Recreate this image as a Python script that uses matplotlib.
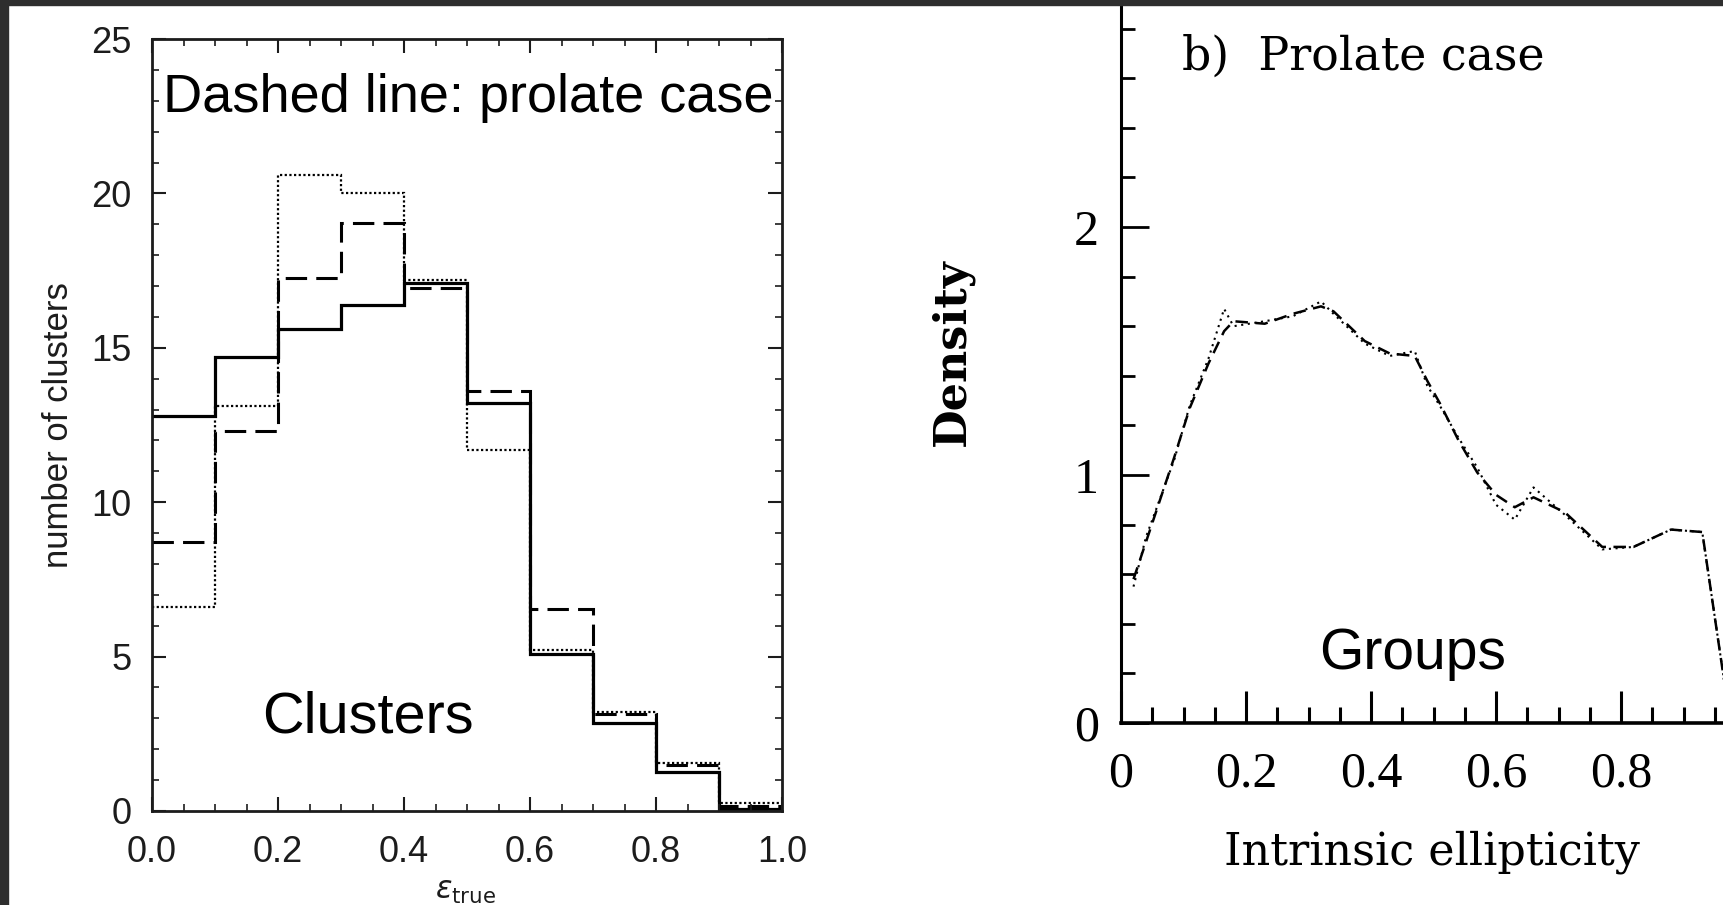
"""Two-panel ellipticity comparison: cluster histograms (left) and group density (right)."""
import matplotlib
matplotlib.use("Agg")
import matplotlib.pyplot as plt
from matplotlib.patches import Rectangle
from matplotlib.ticker import MultipleLocator, FixedLocator, FixedFormatter

# left panel: cluster counts per ellipticity bin
bin_edges = [0.0, 0.1, 0.2, 0.3, 0.4, 0.5, 0.6, 0.7, 0.8, 0.9, 1.0]
solid_counts = [12.8, 14.7, 15.6, 16.4, 17.1, 13.2, 5.1, 2.85, 1.25, 0.05]
dashed_counts = [8.7, 12.3, 17.25, 19.05, 16.95, 13.6, 6.55, 3.15, 1.5, 0.15]
dotted_counts = [6.6, 13.1, 20.6, 20.0, 17.2, 11.7, 5.2, 3.2, 1.55, 0.25]

# right panel: group density vs intrinsic ellipticity
groups_x = [0.02, 0.04, 0.085, 0.11, 0.14, 0.165, 0.18, 0.23, 0.275, 0.32, 0.34,
            0.39, 0.43, 0.47, 0.49, 0.51, 0.54, 0.57, 0.60, 0.63, 0.66, 0.71,
            0.77, 0.82, 0.88, 0.93, 0.975]
groups_dashed = [0.58, 0.73, 1.07, 1.27, 1.45, 1.58, 1.62, 1.61, 1.65, 1.68, 1.66,
                 1.54, 1.49, 1.48, 1.38, 1.29, 1.14, 1.01, 0.92, 0.87, 0.91, 0.85,
                 0.71, 0.71, 0.78, 0.77, 0.0]
groups_dotted = [0.55, 0.75, 1.06, 1.28, 1.47, 1.67, 1.60, 1.62, 1.64, 1.70, 1.65,
                 1.53, 1.48, 1.50, 1.36, 1.28, 1.15, 1.03, 0.88, 0.82, 0.95, 0.84,
                 0.70, 0.71, 0.78, 0.77, 0.0]

left_xticks = [0.0, 0.2, 0.4, 0.6, 0.8, 1.0]
left_xlabels = ["0.0", "0.2", "0.4", "0.6", "0.8", "1.0"]
right_xticks = [0.0, 0.2, 0.4, 0.6, 0.8]
right_xlabels = ["0", "0.2", "0.4", "0.6", "0.8"]

W, H = 1723, 905
fig = plt.figure(figsize=(W / 100, H / 100), dpi=100)
fig.patch.set_facecolor("white")

sans = ["Liberation Sans", "DejaVu Sans"]
serif = ["DejaVu Serif"]
serif_num = ["Liberation Serif", "DejaVu Serif"]
ink = "#1c1c1c"

# ---- left panel ----
ax1 = fig.add_axes([152 / W, 1 - 811 / H, 630 / W, 772 / H])
ax1.stairs(solid_counts, bin_edges, baseline=None, color="black", lw=2.3)
ax1.stairs(dashed_counts, bin_edges, baseline=None, color="black", lw=2.2,
           linestyle=(0, (7, 3)))
ax1.stairs(dotted_counts, bin_edges, baseline=None, color="black", lw=1.6,
           linestyle=(0, (1, 1.1)))
ax1.set_xlim(0, 1.0)
ax1.set_ylim(0, 25)
ax1.xaxis.set_major_locator(FixedLocator(left_xticks))
ax1.xaxis.set_major_formatter(FixedFormatter(left_xlabels))
ax1.xaxis.set_minor_locator(MultipleLocator(0.05))
ax1.yaxis.set_major_locator(MultipleLocator(5))
ax1.yaxis.set_minor_locator(MultipleLocator(1))
ax1.tick_params(which="both", direction="in", top=True, right=True, colors=ink)
ax1.tick_params(which="major", length=10, width=1.5)
ax1.tick_params(which="minor", length=5, width=1.2)
ax1.tick_params(axis="x", which="major", pad=17)
ax1.tick_params(axis="y", which="major", pad=15)
for lab in ax1.get_xticklabels() + ax1.get_yticklabels():
    lab.set_family(sans)
    lab.set_fontsize(26)
    lab.set_color(ink)
for sp in ax1.spines.values():
    sp.set_linewidth(2.0)
    sp.set_color(ink)
ax1.set_ylabel("number of clusters", family=sans, fontsize=25, color=ink)
ax1.yaxis.set_label_coords(-0.122, 0.5)
ax1.set_xlabel(r"$\epsilon_{\mathrm{true}}$", fontsize=22, color=ink)
ax1.xaxis.set_label_coords(0.498, -0.085)
ax1.text(0.017, 0.905, "Dashed line: prolate case", transform=ax1.transAxes,
         family=sans, fontsize=39, color="black", ha="left", va="baseline")
ax1.text(0.343, 0.102, "Clusters", transform=ax1.transAxes,
         family=sans, fontsize=41.5, color="black", ha="center", va="baseline")

# ---- right panel ----
ax2 = fig.add_axes([1121 / W, 1 - 723 / H, (W - 1121) / W, 723 / H])
ax2.plot(groups_x, groups_dashed, color="black", lw=1.8, linestyle=(0, (5, 3)))
ax2.plot(groups_x, groups_dotted, color="black", lw=1.5, linestyle=(0, (1, 2.2)))
ax2.set_xlim(0, (W - 1121) / 625)
ax2.set_ylim(0, 723 / 248)
ax2.spines["top"].set_visible(False)
ax2.spines["right"].set_visible(False)
ax2.spines["left"].set_linewidth(2.2)
ax2.spines["bottom"].set_linewidth(2.6)
ax2.xaxis.set_major_locator(FixedLocator(right_xticks))
ax2.xaxis.set_major_formatter(FixedFormatter(right_xlabels))
ax2.xaxis.set_minor_locator(MultipleLocator(0.05))
ax2.yaxis.set_major_locator(MultipleLocator(1))
ax2.yaxis.set_minor_locator(MultipleLocator(0.2))
ax2.tick_params(which="both", direction="in", colors="black")
ax2.tick_params(axis="x", which="major", length=23, width=2.2, pad=20)
ax2.tick_params(axis="x", which="minor", length=11.5, width=2.2)
ax2.tick_params(axis="y", which="major", length=20, width=2.0, pad=16)
ax2.tick_params(axis="y", which="minor", length=10, width=2.0)
for lab in ax2.get_xticklabels() + ax2.get_yticklabels():
    lab.set_family(serif_num)
    lab.set_fontsize(36)
ax2.set_xlabel("Intrinsic ellipticity", family=serif, fontsize=32)
ax2.xaxis.set_label_coords(0.517, -0.149)
ax2.set_ylabel("Density", family=serif, fontsize=32, fontweight="bold")
ax2.yaxis.set_label_coords(-0.245, 0.513)
ax2.text(0.101, 0.903, "b)  Prolate case", transform=ax2.transAxes,
         family=serif, fontsize=33, ha="left", va="baseline")
ax2.text(0.485, 0.0747, "Groups", transform=ax2.transAxes,
         family=sans, fontsize=41, ha="center", va="baseline")

# dark frame strips from the screenshot
fig.add_artist(Rectangle((0, 0), 8 / W, 1, transform=fig.transFigure,
                         color="#2e2e2e", zorder=10))
fig.add_artist(Rectangle((0, 1 - 5 / H), 1, 5 / H, transform=fig.transFigure,
                         color="#2e2e2e", zorder=10))

fig.savefig("out.png", dpi=100)
